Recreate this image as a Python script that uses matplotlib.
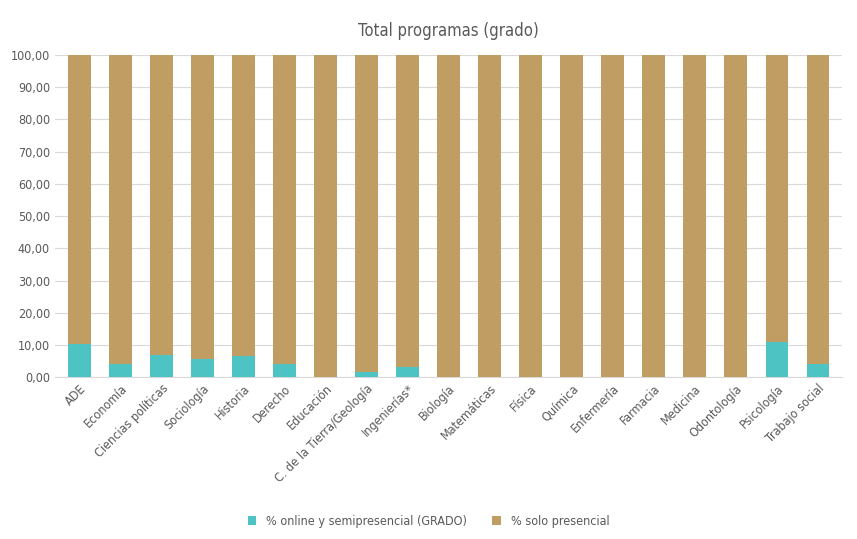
import numpy as np
import matplotlib.pyplot as plt
from matplotlib.ticker import FuncFormatter

plt.rcParams['font.family'] = ['DejaVu Sans']
plt.rcParams['font.stretch'] = 'condensed'

categorias = ['ADE', 'Economía', 'Ciencias políticas', 'Sociología', 'Historia', 'Derecho',
              'Educación', 'C. de la Tierra/Geología', 'Ingenierías*', 'Biología', 'Matemáticas',
              'Física', 'Química', 'Enfermería', 'Farmacia', 'Medicina', 'Odontología',
              'Psicología', 'Trabajo social']
online = [10.3, 4.0, 7.0, 5.8, 6.5, 4.0, 0.0, 1.5, 3.3, 0, 0, 0, 0, 0, 0, 0, 0, 10.8, 4.0]
presencial = [100 - v for v in online]

fig, ax = plt.subplots(figsize=(8.57, 5.39), dpi=100)
fig.subplots_adjust(left=0.064, right=0.983, top=0.898, bottom=0.3)
x = np.arange(len(categorias))
ax.bar(x, online, width=0.55, color='#4dc3c3', label='% online y semipresencial (GRADO)', zorder=3)
ax.bar(x, presencial, width=0.55, bottom=online, color='#c09d62', label='% solo presencial', zorder=3)

ax.set_ylim(0, 100)
ax.set_xlim(-0.6, len(categorias) - 0.4)
ax.set_yticks(np.arange(0, 101, 10))
ax.yaxis.set_major_formatter(FuncFormatter(lambda v, p: f'{v:.2f}'.replace('.', ',')))
ax.grid(axis='y', color='#d9d9d9', lw=0.8, zorder=0)
for s in ['top', 'right', 'left']:
    ax.spines[s].set_visible(False)
ax.spines['bottom'].set_color('#d9d9d9')
ax.tick_params(length=0, colors='#595959', labelsize=9)
ax.set_xticks(x)
ax.set_xticklabels(categorias, rotation=45, ha='right', rotation_mode='anchor')
ax.set_title('Total programas (grado)', fontsize=12, color='#595959', pad=14)
fig.legend(loc='lower center', ncol=2, frameon=False, fontsize=9, handlelength=0.7,
           handleheight=0.7, bbox_to_anchor=(0.5, 0.0), labelcolor='#595959')
fig.savefig('out.png')
